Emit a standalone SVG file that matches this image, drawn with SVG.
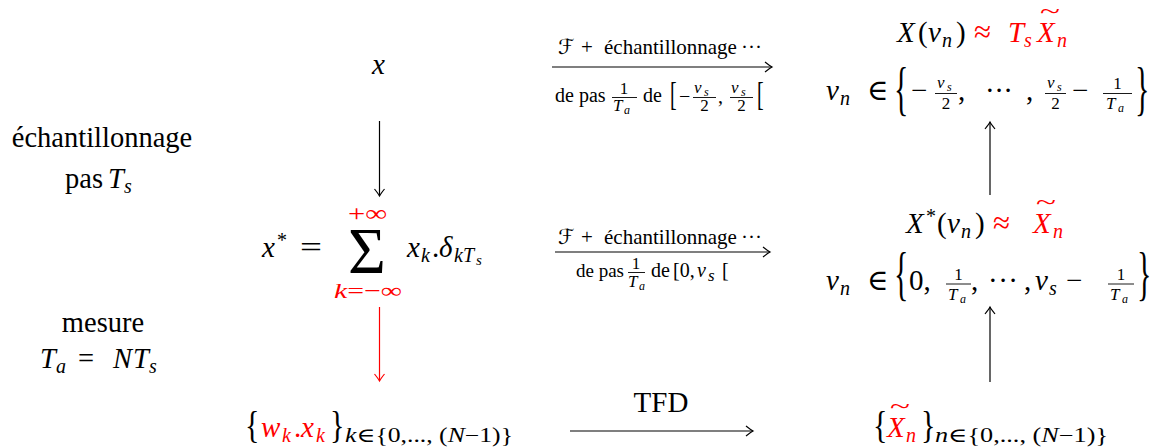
<svg xmlns="http://www.w3.org/2000/svg" width="1155" height="448" viewBox="0 0 1155 448">
<style>
text{font-family:"Liberation Serif","DejaVu Serif","DejaVu Sans",serif;fill:#000}
.i{font-style:italic}
.n{font-style:normal}
.red{fill:#ff0000}
.L{font-size:28.5px}
.M{font-size:29px}
.S{font-size:20px}
.lab{font-size:20px}
.f{font-size:17px}
.fs{font-size:12px}
.arr{stroke:#000;stroke-width:1.2;fill:none}
.arrr{stroke:#ff0000;stroke-width:1.2;fill:none}
.bar{stroke:#000;stroke-width:0.9}
</style>
<defs>
<marker id="ah" markerWidth="12" markerHeight="12" viewBox="-9 -6 10 12" refX="0" refY="0" orient="auto" markerUnits="userSpaceOnUse">
<path d="M-7,-5 Q-2,-1 0,0 Q-2,1 -7,5" fill="none" stroke="#000" stroke-width="1.2"/>
</marker>
<marker id="ahr" markerWidth="12" markerHeight="12" viewBox="-9 -6 10 12" refX="0" refY="0" orient="auto" markerUnits="userSpaceOnUse">
<path d="M-7,-5 Q-2,-1 0,0 Q-2,1 -7,5" fill="none" stroke="#ff0000" stroke-width="1.2"/>
</marker>
</defs>

<g id="connectors">
<line class="arr" x1="379.5" y1="121" x2="379.5" y2="196" marker-end="url(#ah)"/>
<line class="arrr" x1="379.5" y1="307" x2="379.5" y2="381" marker-end="url(#ahr)"/>
<line class="arr" x1="990" y1="195" x2="990" y2="122" marker-end="url(#ah)"/>
<line class="arr" x1="990" y1="382" x2="990" y2="307" marker-end="url(#ah)"/>
<line class="arr" x1="552" y1="67" x2="772" y2="67" marker-end="url(#ah)"/>
<line class="arr" x1="555" y1="252" x2="770" y2="252" marker-end="url(#ah)"/>
<line class="arr" x1="570" y1="431" x2="753" y2="431" marker-end="url(#ah)"/>
</g>

<g id="label-sampling">
<text class="L" x="102" y="147" text-anchor="middle">échantillonnage</text>
<text class="L" y="188"><tspan x="65">pas</tspan><tspan class="i" x="108">T</tspan><tspan class="i S" x="124" dy="5">s</tspan></text>
</g>

<g id="label-measure">
<text class="L" x="103" y="332" text-anchor="middle">mesure</text>
<text class="L" y="368"><tspan class="i" x="40">T</tspan><tspan class="i S" x="56" dy="5">a</tspan><tspan x="78" dy="-5">=</tspan><tspan class="i" x="113">N</tspan><tspan class="i" x="133">T</tspan><tspan class="i S" x="149" dy="5">s</tspan></text>
</g>

<g id="node-x">
<text class="M i" x="372" y="74">x</text>
</g>

<g id="node-xstar">
<text class="M i" x="262" y="257">x</text>
<text class="S" x="277" y="247">*</text>
<text class="M" x="300" y="257" textLength="22" lengthAdjust="spacingAndGlyphs">=</text>
<text class="red" font-size="23" x="348" y="221" textLength="39" lengthAdjust="spacingAndGlyphs">+∞</text>
<text x="367" y="273" font-size="65" text-anchor="middle">Σ</text>
<text class="red" font-size="22" x="334" y="298" textLength="68" lengthAdjust="spacingAndGlyphs"><tspan class="i">k</tspan>=−∞</text>
<text class="M" y="257"><tspan class="i" x="407">x</tspan><tspan class="i S" x="421" dy="5">k</tspan><tspan x="432" dy="-5">.</tspan><tspan class="i" x="439">δ</tspan><tspan class="i S" x="454" dy="5">kT</tspan><tspan class="i" font-size="15" x="476" dy="3">s</tspan></text>
</g>

<g id="node-wx">
<text transform="translate(245,438) scale(1,1.25)" font-size="30">{</text>
<text class="M red i" y="437"><tspan x="261">w</tspan><tspan class="S" x="282" dy="5">k</tspan><tspan class="n" x="294" dy="-5">.</tspan><tspan x="301">x</tspan><tspan class="S" x="316" dy="5">k</tspan></text>
<text transform="translate(330,438) scale(1,1.25)" font-size="30">}</text>
<text x="345" y="442" font-size="20" textLength="168" lengthAdjust="spacingAndGlyphs"><tspan class="i">k</tspan>∈{0,..., (<tspan class="i">N</tspan>−1)}</text>
</g>

<g id="label-top-arrow">
<text font-size="21" y="54"><tspan class="i" x="558">ℱ</tspan><tspan x="581">+</tspan><tspan x="604">échantillonnage</tspan><tspan x="741">···</tspan></text>
<text class="lab" x="555" y="102">de pas</text>
<text class="f" x="624" y="94" text-anchor="middle">1</text>
<line class="bar" x1="612" y1="97.5" x2="637" y2="97.5"/>
<text class="f i" x="613" y="111">T</text><text class="fs i" x="624" y="114">a</text>
<text class="lab" x="643" y="102">de</text>
<text transform="translate(670,104.5) scale(1,1.7)" font-size="20">[</text>
<text font-size="20" x="679" y="103">−</text>
<text class="f i" x="694" y="93">ν</text><text class="fs i" x="704" y="96">s</text>
<line class="bar" x1="693" y1="97.5" x2="716" y2="97.5"/>
<text class="f" x="704.5" y="111" text-anchor="middle">2</text>
<text font-size="20" x="718" y="103">,</text>
<text class="f i" x="731" y="93">ν</text><text class="fs i" x="741" y="96">s</text>
<line class="bar" x1="730" y1="97.5" x2="753" y2="97.5"/>
<text class="f" x="741.5" y="111" text-anchor="middle">2</text>
<text transform="translate(757,104.5) scale(1,1.7)" font-size="20">[</text>
</g>

<g id="label-mid-arrow">
<text font-size="21" y="244"><tspan class="i" x="558">ℱ</tspan><tspan x="581">+</tspan><tspan x="604">échantillonnage</tspan><tspan x="741">···</tspan></text>
<text x="576" y="277" font-size="19">de pas</text>
<text class="f" x="636" y="269" text-anchor="middle">1</text>
<line class="bar" x1="628" y1="272.5" x2="645" y2="272.5"/>
<text class="f i" x="628" y="287">T</text><text class="fs i" x="639" y="290">a</text>
<text class="lab" x="651" y="277">de</text>
<text class="lab" x="673" y="277">[0,</text>
<text class="lab i" x="697" y="277">ν</text><text class="f i" x="708" y="281">s</text>
<text class="lab" x="722" y="277">[</text>
</g>

<g id="node-X">
<text class="M" y="42"><tspan class="i" x="897">X</tspan><tspan x="918">(</tspan><tspan class="i" x="928">ν</tspan><tspan class="i S" x="942" dy="5">n</tspan><tspan x="956" dy="-5">)</tspan><tspan class="red" font-size="31" x="974">≈</tspan><tspan class="red i" x="1008">T</tspan><tspan class="red i S" x="1024" dy="5">s</tspan><tspan class="red i" x="1037" dy="-5">X</tspan><tspan class="red i S" x="1057" dy="5">n</tspan></text>
<text class="red" x="1040" y="18" font-size="20" textLength="20" lengthAdjust="spacingAndGlyphs">~</text>
</g>

<g id="node-nu-range-1">
<text class="M" y="100"><tspan class="i" x="826">ν</tspan><tspan class="i S" x="840" dy="5">n</tspan><tspan x="867" dy="-5">∈</tspan></text>
<text transform="translate(894,107.5) scale(1,1.95)" font-size="30">{</text>
<text class="M" x="911" y="100">−</text>
<text class="f i" x="937" y="88">ν</text><text class="fs i" x="947" y="91">s</text>
<line class="bar" x1="935" y1="93.5" x2="957" y2="93.5"/>
<text class="f" x="946" y="109" text-anchor="middle">2</text>
<text class="M" x="958" y="100">,</text>
<text class="M" x="985" y="100" textLength="28" lengthAdjust="spacing">···</text>
<text class="M" x="1026" y="100">,</text>
<text class="f i" x="1047" y="88">ν</text><text class="fs i" x="1057" y="91">s</text>
<line class="bar" x1="1045" y1="93.5" x2="1066" y2="93.5"/>
<text class="f" x="1055.5" y="109" text-anchor="middle">2</text>
<text class="M" x="1072" y="100">−</text>
<text class="f" x="1117.5" y="89" text-anchor="middle">1</text>
<line class="bar" x1="1103" y1="93.5" x2="1132" y2="93.5"/>
<text class="f i" x="1106" y="109">T</text><text class="fs i" x="1118" y="112">a</text>
<text transform="translate(1135,107.5) scale(1,1.95)" font-size="30">}</text>
</g>

<g id="node-Xstar">
<text class="M" y="233"><tspan class="i" x="906">X</tspan><tspan class="S" x="926" dy="-10">*</tspan><tspan x="937" dy="10">(</tspan><tspan class="i" x="947">ν</tspan><tspan class="i S" x="961" dy="5">n</tspan><tspan x="975" dy="-5">)</tspan><tspan class="red" font-size="31" x="993">≈</tspan><tspan class="red i" x="1033">X</tspan><tspan class="red i S" x="1053" dy="5">n</tspan></text>
<text class="red" x="1036" y="209" font-size="20" textLength="20" lengthAdjust="spacingAndGlyphs">~</text>
</g>

<g id="node-nu-range-2">
<text class="M" y="290"><tspan class="i" x="826">ν</tspan><tspan class="i S" x="840" dy="5">n</tspan><tspan x="867" dy="-5">∈</tspan></text>
<text transform="translate(894,292.5) scale(1,1.95)" font-size="30">{</text>
<text class="M" x="909" y="290">0,</text>
<text class="f" x="958.5" y="280" text-anchor="middle">1</text>
<line class="bar" x1="946" y1="284" x2="971" y2="284"/>
<text class="f i" x="948" y="300">T</text><text class="fs i" x="960" y="303">a</text>
<text class="M" x="971" y="290">,</text>
<text class="M" x="988" y="290" textLength="30" lengthAdjust="spacing">···</text>
<text class="M" x="1024" y="290">,</text>
<text class="M i" x="1035" y="290">ν</text><text class="S i" x="1049" y="295">s</text>
<text class="M" x="1066" y="290">−</text>
<text class="f" x="1121" y="280" text-anchor="middle">1</text>
<line class="bar" x1="1108" y1="284" x2="1134" y2="284"/>
<text class="f i" x="1110" y="300">T</text><text class="fs i" x="1122" y="303">a</text>
<text transform="translate(1137,292.5) scale(1,1.95)" font-size="30">}</text>
</g>

<g id="label-tfd">
<text class="M" x="661" y="412" text-anchor="middle">TFD</text>
</g>

<g id="node-Xtilde">
<text transform="translate(873,438) scale(1,1.25)" font-size="30">{</text>
<text class="M red i" y="437"><tspan x="887">X</tspan><tspan class="S" x="906" dy="5">n</tspan></text>
<text class="red" x="890" y="413" font-size="20" textLength="20" lengthAdjust="spacingAndGlyphs">~</text>
<text transform="translate(921,438) scale(1,1.25)" font-size="30">}</text>
<text x="935" y="442" font-size="20" textLength="173" lengthAdjust="spacingAndGlyphs"><tspan class="i">n</tspan>∈{0,..., (<tspan class="i">N</tspan>−1)}</text>
</g>
</svg>
